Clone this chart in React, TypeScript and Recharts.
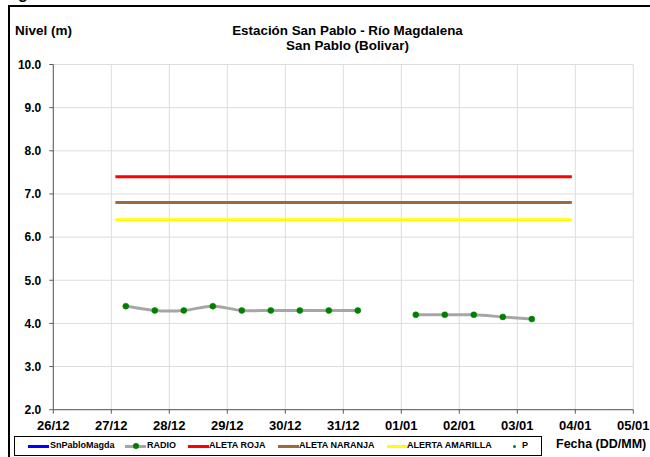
import React from 'react';
import { ComposedChart, Line, XAxis, YAxis, CartesianGrid, Legend } from 'recharts';

// x values are days since 26/12 00:00
const dayTicks = [0, 1, 2, 3, 4, 5, 6, 7, 8, 9, 10];
const dayLabels = ['26/12', '27/12', '28/12', '29/12', '30/12', '31/12', '01/01', '02/01', '03/01', '04/01', '05/01'];
const levelTicks = [2, 3, 4, 5, 6, 7, 8, 9, 10];
const gridLevels = [2, 2.5, 3, 3.5, 4, 4.5, 5, 5.5, 6, 6.5, 7, 7.5, 8, 8.5, 9, 9.5, 10];

const radioTimes = [1.25, 1.75, 2.25, 2.75, 3.25, 3.75, 4.25, 4.75, 5.25, 5.75, 6.25, 6.75, 7.25, 7.75, 8.25];
const radioLevels: (number | null)[] = [4.4, 4.3, 4.3, 4.4, 4.3, 4.3, 4.3, 4.3, 4.3, null, 4.2, 4.2, 4.2, 4.15, 4.1];

const alertTimes = [1.07, 8.94];
const alertaRoja = 7.4;
const alertaNaranja = 6.8;
const alertaAmarilla = 6.4;

const legendItems = [
  { name: 'SnPabloMagda', color: '#0000FF', kind: 'line' },
  { name: 'RADIO', color: '#A6A6A6', kind: 'radio' },
  { name: 'ALETA ROJA', color: '#FF0000', kind: 'line' },
  { name: 'ALETA NARANJA', color: '#9B6A3A', kind: 'line' },
  { name: 'ALERTA AMARILLA', color: '#FFFF00', kind: 'line' },
  { name: 'P', color: '#008000', kind: 'dot' },
];

type Row = { t: number; radio?: number | null; roja?: number; naranja?: number; amarilla?: number };
const rows: Row[] = [];
alertTimes.forEach((t) => rows.push({ t, roja: alertaRoja, naranja: alertaNaranja, amarilla: alertaAmarilla }));
radioTimes.forEach((t, i) => rows.push({ t, radio: radioLevels[i] }));
rows.sort((a, b) => a.t - b.t);

// Excel-like smoothed line (Catmull-Rom)
const smoothCurve = (context: any) => {
  let pts: number[][] = [];
  return {
    areaStart() {},
    areaEnd() {},
    lineStart() {
      pts = [];
    },
    point(x: number, y: number) {
      pts.push([+x, +y]);
    },
    lineEnd() {
      if (!pts.length) return;
      context.moveTo(pts[0][0], pts[0][1]);
      for (let i = 0; i < pts.length - 1; i++) {
        const p0 = pts[i - 1] || pts[i];
        const p1 = pts[i];
        const p2 = pts[i + 1];
        const p3 = pts[i + 2] || p2;
        context.bezierCurveTo(
          p1[0] + (p2[0] - p0[0]) / 6,
          p1[1] + (p2[1] - p0[1]) / 6,
          p2[0] - (p3[0] - p1[0]) / 6,
          p2[1] - (p3[1] - p1[1]) / 6,
          p2[0],
          p2[1]
        );
      }
    },
  };
};

const FONT = '"Liberation Sans", Arial, sans-serif';

const legendPositions = [28, 125, 188, 278, 387, 509];
const textPositions = [50, 147, 209, 299, 407, 522];

const LegendBox = () => (
  <div
    style={{
      position: 'absolute',
      left: 0,
      top: 0,
      width: 526,
      height: 18,
      border: '1px solid #000',
      background: '#fff',
      fontFamily: FONT,
      fontWeight: 'bold',
      fontSize: 9,
      color: '#000',
    }}
  >
    {legendItems.map((it, i) => {
      const lx = legendPositions[i] - 15;
      const tx = textPositions[i] - 15;
      return (
        <React.Fragment key={it.name}>
          {it.kind !== 'dot' ? (
            <div style={{ position: 'absolute', left: lx, top: 7.5, width: 21, height: 3, background: it.color }} />
          ) : null}
          {it.kind === 'radio' ? (
            <div style={{ position: 'absolute', left: lx + 7.5, top: 6, width: 6, height: 6, borderRadius: 3, background: '#008000' }} />
          ) : null}
          {it.kind === 'dot' ? (
            <div style={{ position: 'absolute', left: lx + 4, top: 7.5, width: 3, height: 3, borderRadius: 1.5, background: it.color }} />
          ) : null}
          <div style={{ position: 'absolute', left: tx, top: 3, lineHeight: '11px', whiteSpace: 'nowrap' }}>{it.name}</div>
        </React.Fragment>
      );
    })}
  </div>
);

export default function App() {
  return (
    <div style={{ position: 'absolute', left: 0, top: 0, width: 650, height: 457, overflow: 'hidden', background: '#fff' }}>
      <div
        style={{
          position: 'absolute',
          left: 8,
          top: 5,
          width: 700,
          height: 500,
          borderTop: '2px solid #000',
          borderLeft: '2px solid #000',
        }}
      />
      <svg style={{ position: 'absolute', left: 0, top: 0 }} width={60} height={10}>
        <text x={18} y={-1} fontFamily={FONT} fontWeight="bold" fontSize={16} fill="#000">
          g
        </text>
      </svg>
      <div
        style={{
          position: 'absolute',
          left: 0,
          top: 23,
          width: 695,
          textAlign: 'center',
          fontFamily: FONT,
          fontWeight: 'bold',
          fontSize: 13.4,
          lineHeight: '15px',
          color: '#000',
        }}
      >
        <div>Estación San Pablo - Río Magdalena</div>
        <div>San Pablo (Bolivar)</div>
      </div>
      <div
        style={{
          position: 'absolute',
          left: 15,
          top: 23,
          fontFamily: FONT,
          fontWeight: 'bold',
          fontSize: 13.5,
          lineHeight: '15px',
          color: '#000',
        }}
      >
        Nivel (m)
      </div>
      <div
        style={{
          position: 'absolute',
          left: 556,
          top: 436,
          fontFamily: FONT,
          fontWeight: 'bold',
          fontSize: 12.5,
          lineHeight: '16px',
          color: '#000',
          whiteSpace: 'nowrap',
        }}
      >
        Fecha (DD/MM)
      </div>
      <div style={{ position: 'absolute', left: 0, top: 0 }}>
        <ComposedChart
          width={650}
          height={457}
          data={rows}
          margin={{ top: 64.5, right: 16.7, bottom: 27.3, left: 8.3 }}
        >
          <CartesianGrid stroke="#DDDDDD" strokeWidth={1} horizontalValues={gridLevels} verticalValues={dayTicks} />
          <XAxis
            dataKey="t"
            type="number"
            domain={[0, 10]}
            ticks={dayTicks}
            allowDataOverflow
            height={20}
            tickSize={4}
            tickMargin={7}
            interval={0}
            tickFormatter={(v: number) => dayLabels[Math.round(v)]}
            tick={{ fontSize: 13, fontWeight: 'bold', fill: '#000', fontFamily: FONT }}
            stroke="#595959"
          />
          <YAxis
            type="number"
            domain={[2, 10]}
            ticks={levelTicks}
            allowDataOverflow
            width={45}
            tickSize={4}
            tickMargin={8}
            tickFormatter={(v: number) => v.toFixed(1)}
            tick={{ fontSize: 12, fontWeight: 'bold', fill: '#000', fontFamily: FONT }}
            stroke="#595959"
          />
          <Legend
            layout="horizontal"
            verticalAlign="middle"
            align="center"
            wrapperStyle={{ position: 'absolute', left: 14, top: 436, width: 528, height: 20 }}
            content={() => <LegendBox />}
          />
          <Line dataKey="roja" name="ALETA ROJA" stroke="#FF0000" strokeWidth={3} dot={false} connectNulls isAnimationActive={false} />
          <Line dataKey="naranja" name="ALETA NARANJA" stroke="#9B6A3A" strokeWidth={3} dot={false} connectNulls isAnimationActive={false} />
          <Line dataKey="amarilla" name="ALERTA AMARILLA" stroke="#FFFF00" strokeWidth={3} dot={false} connectNulls isAnimationActive={false} />
          <Line
            dataKey="radio"
            name="RADIO"
            type={smoothCurve as any}
            stroke="#A6A6A6"
            strokeWidth={3}
            dot={{ r: 3, fill: '#008000', stroke: '#008000', strokeWidth: 0.5 }}
            connectNulls={false}
            isAnimationActive={false}
          />
        </ComposedChart>
      </div>
    </div>
  );
}
